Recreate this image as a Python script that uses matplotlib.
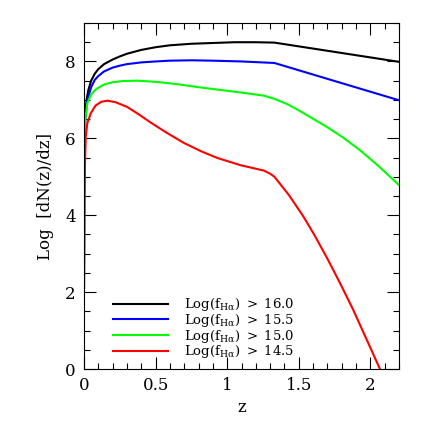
import numpy as np
import matplotlib
matplotlib.use("Agg")
import matplotlib.pyplot as plt
from matplotlib.ticker import MultipleLocator

plt.rcParams["font.family"] = "DejaVu Serif"
plt.rcParams["mathtext.fontset"] = "dejavuserif"

# curves
z_16 = [0, 0.002, 0.005, 0.01, 0.02, 0.03, 0.05, 0.075, 0.1, 0.14, 0.2, 0.25, 0.3, 0.4, 0.5,
        0.6, 0.75, 0.9, 1.05, 1.2, 1.33, 2.2]
n_16 = [2.1, 5.5, 6.3, 6.7, 7.05, 7.25, 7.5, 7.68, 7.8, 7.93, 8.05, 8.13, 8.2, 8.3, 8.37,
        8.42, 8.46, 8.48, 8.5, 8.5, 8.49, 7.99]

z_155 = [0, 0.002, 0.005, 0.01, 0.02, 0.03, 0.05, 0.075, 0.1, 0.14, 0.2, 0.25, 0.3, 0.4, 0.5,
         0.6, 0.75, 0.9, 1.1, 1.33, 2.2]
n_155 = [2.1, 5.4, 6.2, 6.55, 6.9, 7.08, 7.33, 7.52, 7.62, 7.74, 7.84, 7.89, 7.93, 7.975, 8.0,
         8.02, 8.03, 8.02, 8.0, 7.96, 6.99]

z_15 = [0, 0.002, 0.005, 0.01, 0.023, 0.047, 0.07, 0.093, 0.14, 0.2, 0.27, 0.372, 0.5, 0.65,
        0.8, 0.95, 1.1, 1.257, 1.327, 1.42, 1.508, 1.6, 1.695, 1.81, 1.928, 2.06, 2.195]
n_15 = [2.1, 5.3, 6.1, 6.5, 6.91, 7.12, 7.23, 7.3, 7.4, 7.46, 7.49, 7.5, 7.47, 7.41,
        7.33, 7.26, 7.19, 7.11, 7.03, 6.89, 6.71, 6.51, 6.30, 6.02, 5.69, 5.27, 4.80]

z_145 = [0, 0.003, 0.007, 0.012, 0.023, 0.047, 0.08, 0.12, 0.163, 0.22, 0.3, 0.38, 0.466,
         0.58, 0.698, 0.82, 0.931, 1.094, 1.2, 1.257, 1.3, 1.33, 1.43, 1.53, 1.61, 1.70,
         1.79, 1.88, 1.97, 2.067]
n_145 = [2.1, 4.5, 5.35, 6.04, 6.39, 6.65, 6.85, 6.95, 6.98, 6.94, 6.82, 6.63, 6.41,
         6.14, 5.88, 5.66, 5.49, 5.30, 5.21, 5.16, 5.08, 5.0, 4.53, 3.98, 3.48, 2.87,
         2.22, 1.54, 0.80, 0.0]

labels = ["16.0", "15.5", "15.0", "14.5"]
colors = ["#000000", "#0000ff", "#00ff00", "#ff0000"]

fig = plt.figure(figsize=(4.21, 4.21), dpi=100)
ax = fig.add_axes([84 / 421, 52 / 421, 315 / 421, 346 / 421])

series = [(z_16, n_16), (z_155, n_155), (z_15, n_15), (z_145, n_145)]
for (z, n), lab, c in zip(series, labels, colors):
    ax.plot(z, n, color=c, lw=1.5,
            label=r"Log(f$_{\rm H\alpha}$) $>$ " + lab)

ax.set_xlim(0, 2.2)
ax.set_ylim(0, 9)
ax.xaxis.set_minor_locator(MultipleLocator(0.1))
ax.yaxis.set_major_locator(MultipleLocator(2))
ax.yaxis.set_minor_locator(MultipleLocator(0.5))
ax.set_xticks([0, 0.5, 1, 1.5, 2])
ax.set_xticklabels(["0", "0.5", "1", "1.5", "2"])
ax.tick_params(which="both", direction="in", top=True, right=True, labelsize=12, width=0.8)
ax.tick_params(which="major", length=8.5, pad=6)
ax.tick_params(which="minor", length=4.3)
for s in ax.spines.values():
    s.set_linewidth(0.8)

ax.set_xlabel("z", fontsize=12, labelpad=3)
ax.set_ylabel("Log  [dN(z)/dz]", fontsize=12, labelpad=8)

ax.legend(loc="lower left", bbox_to_anchor=(0.062, -0.002), frameon=False, fontsize=9.5,
          handlelength=4.2, handletextpad=1.2, labelspacing=-0.1, borderpad=0.2)

fig.savefig("out.png", dpi=100)
